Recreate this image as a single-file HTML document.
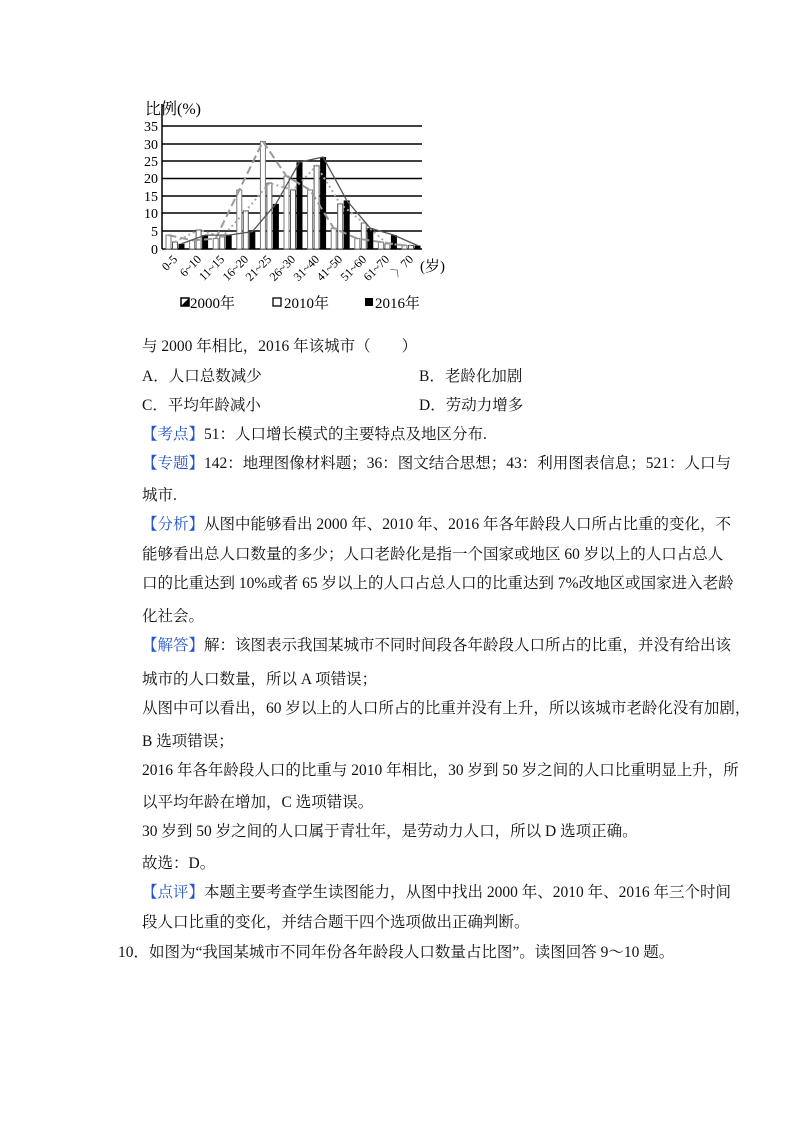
<!DOCTYPE html>
<html><head><meta charset="utf-8"><style>
body{margin:0;background:#fff;}
#p{position:relative;width:800px;height:1132px;overflow:hidden;font-family:"Liberation Serif","Noto Serif CJK SC",serif;font-size:15.5px;color:#111;}
.l{position:absolute;left:142px;height:22px;line-height:22px;white-space:nowrap;}
.j{width:524px;text-align:justify;text-align-last:justify;}
.b{color:#2255cc;}
</style></head><body><div id="p">
<svg width="800" height="330" style="position:absolute;left:0;top:0" font-family="Liberation Serif, Noto Serif CJK SC, serif">
<text x="145" y="114" font-size="16">比例(%)</text>
<g stroke="#000" stroke-width="1.5">
<line x1="162" y1="104" x2="162" y2="249"/>
<line x1="162" y1="126" x2="422" y2="126"/>
<line x1="162" y1="144" x2="422" y2="144"/>
<line x1="162" y1="161" x2="422" y2="161"/>
<line x1="162" y1="178.5" x2="422" y2="178.5"/>
<line x1="162" y1="196" x2="422" y2="196"/>
<line x1="162" y1="213" x2="422" y2="213"/>
<line x1="162" y1="231" x2="422" y2="231"/>
<line x1="162" y1="249" x2="422" y2="249"/>
</g>
<g font-size="14" text-anchor="end">
<text x="158" y="131">35</text><text x="158" y="149">30</text><text x="158" y="166">25</text><text x="158" y="183">20</text><text x="158" y="201">15</text><text x="158" y="218">10</text><text x="158" y="236">5</text><text x="158" y="254">0</text>
</g>
<g id="bars"></g>
<g font-size="12" text-anchor="end">
<text transform="translate(178,260) rotate(-45)">0-5</text>
<text transform="translate(202,260) rotate(-45)">6~10</text>
<text transform="translate(225,260) rotate(-45)">11~15</text>
<text transform="translate(249,260) rotate(-45)">16~20</text>
<text transform="translate(272,260) rotate(-45)">21~25</text>
<text transform="translate(296,260) rotate(-45)">26~30</text>
<text transform="translate(320,260) rotate(-45)">31~40</text>
<text transform="translate(343,260) rotate(-45)">41~50</text>
<text transform="translate(367,260) rotate(-45)">51~60</text>
<text transform="translate(390,260) rotate(-45)">61~70</text>
<text transform="translate(414,260) rotate(-45)">〉70</text>
</g>
<text x="420" y="271" font-size="15">(岁)</text>
<g font-size="15">
<rect x="181" y="298" width="8" height="8" fill="#fff" stroke="#000" stroke-width="1.5"/><path d="M181 306 L189 298 L189 306Z"/>
<text x="190" y="308">2000年</text>
<rect x="273" y="298" width="8" height="8" fill="#fff" stroke="#000" stroke-width="1.3"/>
<text x="284" y="308">2010年</text>
<rect x="365" y="298" width="8" height="8" fill="#000"/>
<text x="375" y="308">2016年</text>
</g>
</svg>
<script>
(function(){
var a=[4,2.5,3,17,31,21,17,6,3,2,1],b=[2,5.5,3.5,11,19,17,24,13,7.5,1.5,1],c=[1.5,4,4,5,13,25,26.5,14,6,4,1];
var s='',y=function(v){return 249-v*3.47};
var pa=[],pb=[],pc=[];
for(var i=0;i<11;i++){var x=162+i*23.6;
s+='<rect x="'+(x+4)+'" y="'+y(a[i])+'" width="5" height="'+(a[i]*3.47)+'" fill="#fff" stroke="#777" stroke-width="1"/>';
s+='<rect x="'+(x+10.5)+'" y="'+y(b[i])+'" width="5" height="'+(b[i]*3.47)+'" fill="#fff" stroke="#555" stroke-width="1"/>';
s+='<rect x="'+(x+16.5)+'" y="'+y(c[i])+'" width="6" height="'+(c[i]*3.47)+'" fill="#000"/>';
pa.push((x+6.5)+','+y(a[i]));pb.push((x+13)+','+y(b[i]));pc.push((x+19.5)+','+y(c[i]));}
s+='<polyline points="'+pa.join(' ')+'" fill="none" stroke="#999" stroke-width="2" stroke-dasharray="8,4"/>';
s+='<polyline points="'+pb.join(' ')+'" fill="none" stroke="#aaa" stroke-width="2" stroke-dasharray="2,3"/>';
s+='<polyline points="'+pc.join(' ')+'" fill="none" stroke="#555" stroke-width="1.3"/>';
document.getElementById('bars').innerHTML=s;})();
</script>
<div class="l" style="top:336px">与 2000 年相比，2016 年该城市（　　）</div>
<div class="l" style="top:366px">A．人口总数减少</div><div class="l" style="top:366px;left:419px">B．老龄化加剧</div>
<div class="l" style="top:395px">C．平均年龄减小</div><div class="l" style="top:395px;left:419px">D．劳动力增多</div>
<div class="l" style="top:424px"><span class="b">【考点】</span>51：人口增长模式的主要特点及地区分布.</div>
<div class="l j" style="top:453px"><span class="b">【专题】</span>142：地理图像材料题；36：图文结合思想；43：利用图表信息；521：人口与</div>
<div class="l" style="top:485px">城市.</div>
<div class="l j" style="top:514px"><span class="b">【分析】</span>从图中能够看出 2000 年、2010 年、2016 年各年龄段人口所占比重的变化，不</div>
<div class="l j" style="top:544px">能够看出总人口数量的多少；人口老龄化是指一个国家或地区 60 岁以上的人口占总人</div>
<div class="l j" style="top:573px">口的比重达到 10%或者 65 岁以上的人口占总人口的比重达到 7%改地区或国家进入老龄</div>
<div class="l" style="top:606px">化社会。</div>
<div class="l j" style="top:635px"><span class="b">【解答】</span>解：该图表示我国某城市不同时间段各年龄段人口所占的比重，并没有给出该</div>
<div class="l" style="top:669px">城市的人口数量，所以 A 项错误；</div>
<div class="l j" style="top:698px">从图中可以看出，60 岁以上的人口所占的比重并没有上升，所以该城市老龄化没有加剧，</div>
<div class="l" style="top:731px">B 选项错误；</div>
<div class="l j" style="top:760px">2016 年各年龄段人口的比重与 2010 年相比，30 岁到 50 岁之间的人口比重明显上升，所</div>
<div class="l" style="top:792px">以平均年龄在增加，C 选项错误。</div>
<div class="l" style="top:821px">30 岁到 50 岁之间的人口属于青壮年，是劳动力人口，所以 D 选项正确。</div>
<div class="l" style="top:853px">故选：D。</div>
<div class="l j" style="top:882px"><span class="b">【点评】</span>本题主要考查学生读图能力，从图中找出 2000 年、2010 年、2016 年三个时间</div>
<div class="l" style="top:912px">段人口比重的变化，并结合题干四个选项做出正确判断。</div>
<div class="l" style="top:942px;left:118px">10．如图为“我国某城市不同年份各年龄段人口数量占比图”。读图回答 9～10 题。</div>
</div></body></html>
